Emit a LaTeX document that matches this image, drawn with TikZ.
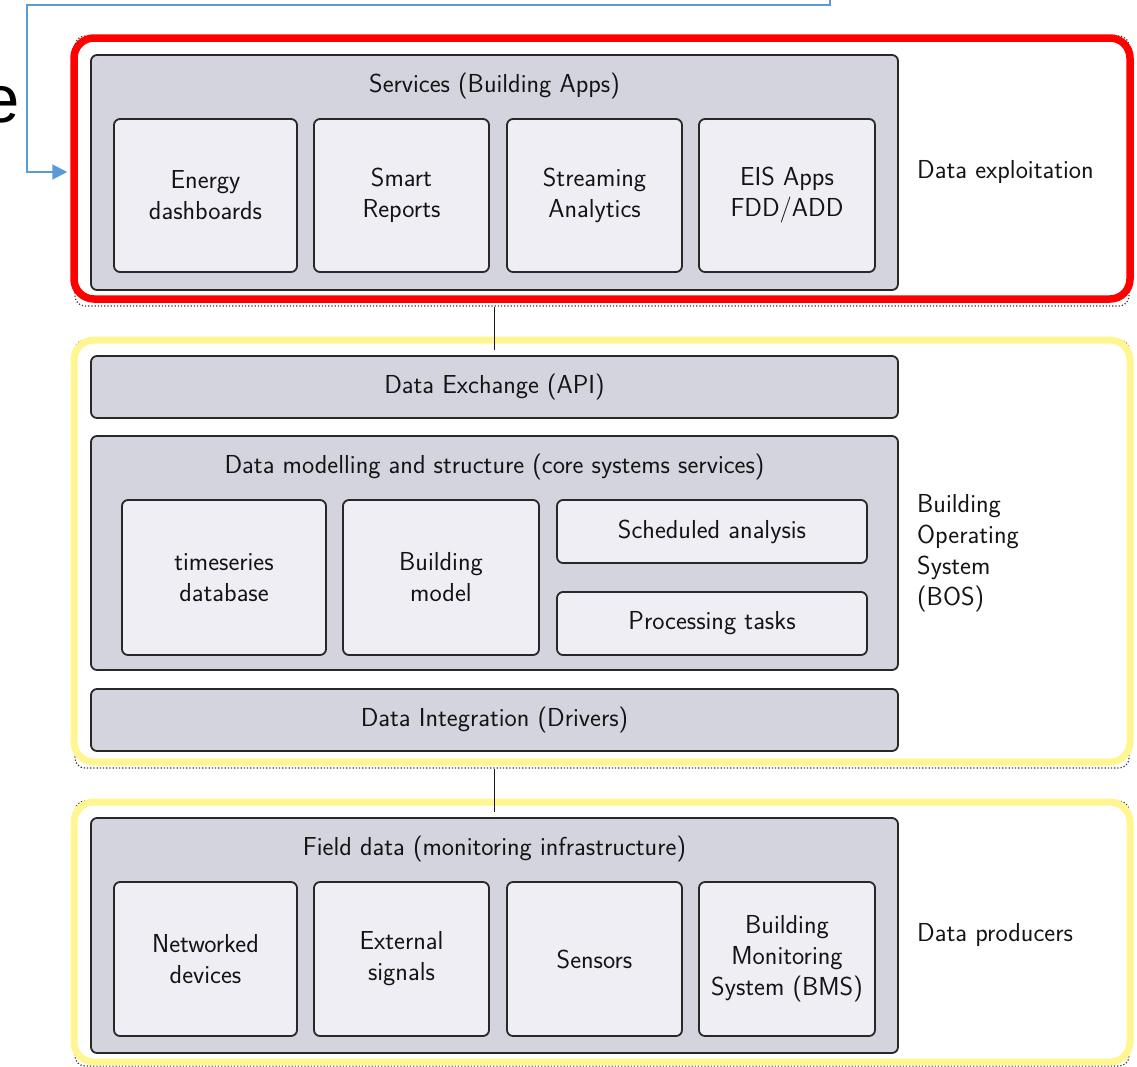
\documentclass[tikz,border=0pt]{standalone}
\usepackage{fontspec}
\newfontfamily\arialike{Liberation Sans}
\usetikzlibrary{arrows.meta}
\definecolor{layerfill}{RGB}{212,212,223}
\definecolor{cellfill}{RGB}{238,238,244}
\definecolor{edge}{RGB}{40,40,40}
\definecolor{txt}{RGB}{20,20,20}
\definecolor{hlred}{RGB}{255,0,0}
\definecolor{hlyellow}{RGB}{255,246,145}
\definecolor{linkblue}{RGB}{91,155,213}

\begin{document}
\begin{tikzpicture}[x=1pt,y=-1pt,
  every node/.style={font=\sffamily\fontsize{26}{31}\selectfont, text=txt},
  panel/.style={draw=edge, line width=1.8pt, fill=layerfill, rounded corners=6pt,
                inner sep=0pt, minimum width=807pt},
  cell/.style={draw=edge, line width=1.8pt, fill=cellfill, rounded corners=6pt,
               align=center, inner sep=0pt},
  layerframe/.style={draw=black!80, dotted, line width=1.2pt, rounded corners=10pt,
                     inner sep=0pt, minimum width=1054pt},
  highlight/.style={line width=7.5pt, rounded corners=20pt, inner sep=0pt,
                    minimum width=1056pt},
  sidelabel/.style={anchor=west, align=left, inner sep=0pt},
  link/.style={draw=black!90, line width=1.4pt}
]
\useasboundingbox (0,0) rectangle (1137,1066);

% dotted layer frames
\node[layerframe, minimum height=270pt] (toplayer) at (602,171) {};
\node[layerframe, minimum height=428pt] (midlayer) at (602,554) {};
\node[layerframe, minimum height=265pt] (botlayer) at (602,933.5) {};

% highlight frames
\node[highlight, draw=hlred, minimum height=261pt] (redhl) at (602,168.5) {};
\node[highlight, draw=hlyellow, line width=7pt, minimum height=422pt] (midhl) at (602,551) {};
\node[highlight, draw=hlyellow, line width=7pt, minimum height=260pt] (bothl) at (602,932) {};

% ---- Services layer
\node[panel, minimum height=235pt] (services) at (494.5,172.5) {};
\node (servicestitle) at (494.5,86) {Services (Building Apps)};
\node[cell, minimum width=183pt, minimum height=153pt] (energy) at (205.5,195.5) {Energy\\dashboards};
\node[cell, minimum width=175pt, minimum height=153pt] (smart) at (401.5,195.5) {Smart\\Reports};
\node[cell, minimum width=175pt, minimum height=153pt] (streaming) at (594.5,195.5) {Streaming\\Analytics};
\node[cell, minimum width=176pt, minimum height=153pt] (eis) at (787,195.5) {EIS Apps\\FDD/ADD};

% ---- Building operating system layer
\node[panel, minimum height=62pt] (exchange) at (494.5,387) {Data Exchange (API)};
\node[panel, minimum height=234pt] (modelling) at (494.5,553) {};
\node (modellingtitle) at (494.5,467) {Data modelling and structure (core systems services)};
\node[cell, minimum width=204pt, minimum height=155pt] (timeseries) at (224,577.5) {timeseries\\database};
\node[cell, minimum width=196pt, minimum height=155pt] (bmodel) at (441,577.5) {Building\\model};
\node[cell, minimum width=310pt, minimum height=63pt] (sched) at (712,531.5) {Scheduled analysis};
\node[cell, minimum width=310pt, minimum height=63pt] (proc) at (712,623.5) {Processing tasks};
\node[panel, minimum height=62pt] (integration) at (494.5,720) {Data Integration (Drivers)};

% ---- Field data layer
\node[panel, minimum height=235pt] (field) at (494.5,935.5) {};
\node (fieldtitle) at (494.5,849) {Field data (monitoring infrastructure)};
\node[cell, minimum width=183pt, minimum height=154pt] (networked) at (205.5,959) {Networked\\devices};
\node[cell, minimum width=175pt, minimum height=154pt] (external) at (401.5,959) {External\\signals};
\node[cell, minimum width=175pt, minimum height=154pt] (sensors) at (594.5,959) {Sensors};
\node[cell, minimum width=176pt, minimum height=154pt] (bms) at (787,959) {Building\\Monitoring\\System (BMS)};

% layer links
\coordinate (midentry) at (494.5,350);
\coordinate (botentry) at (494.5,812);
\draw[link] (toplayer.south -| services.south) -- (midentry);
\draw[link] (midlayer.south -| integration.south) -- (botentry);

% side labels
\node[sidelabel] (lblexp) at (917,172) {Data exploitation};
\node[sidelabel] (lblbos) at (917,553.5) {Building\\Operating\\System\\(BOS)};
\node[sidelabel] (lblprod) at (917,935) {Data producers};

% incoming link from above
\node[font=\arialike\fontsize{67}{67}\selectfont, text=black, anchor=base east,
      inner sep=0pt] (cut) at (20,122) {e};
\coordinate (src) at (830,-20);
\coordinate (bendtop) at (27,5);
\coordinate (bendleft) at (27,172);
\draw[linkblue, line width=2pt, -{Triangle[length=15pt,width=15pt]}]
  (src) |- (bendtop) -- (bendleft) -- ([xshift=-3pt]redhl.west |- bendleft);
\end{tikzpicture}
\end{document}
